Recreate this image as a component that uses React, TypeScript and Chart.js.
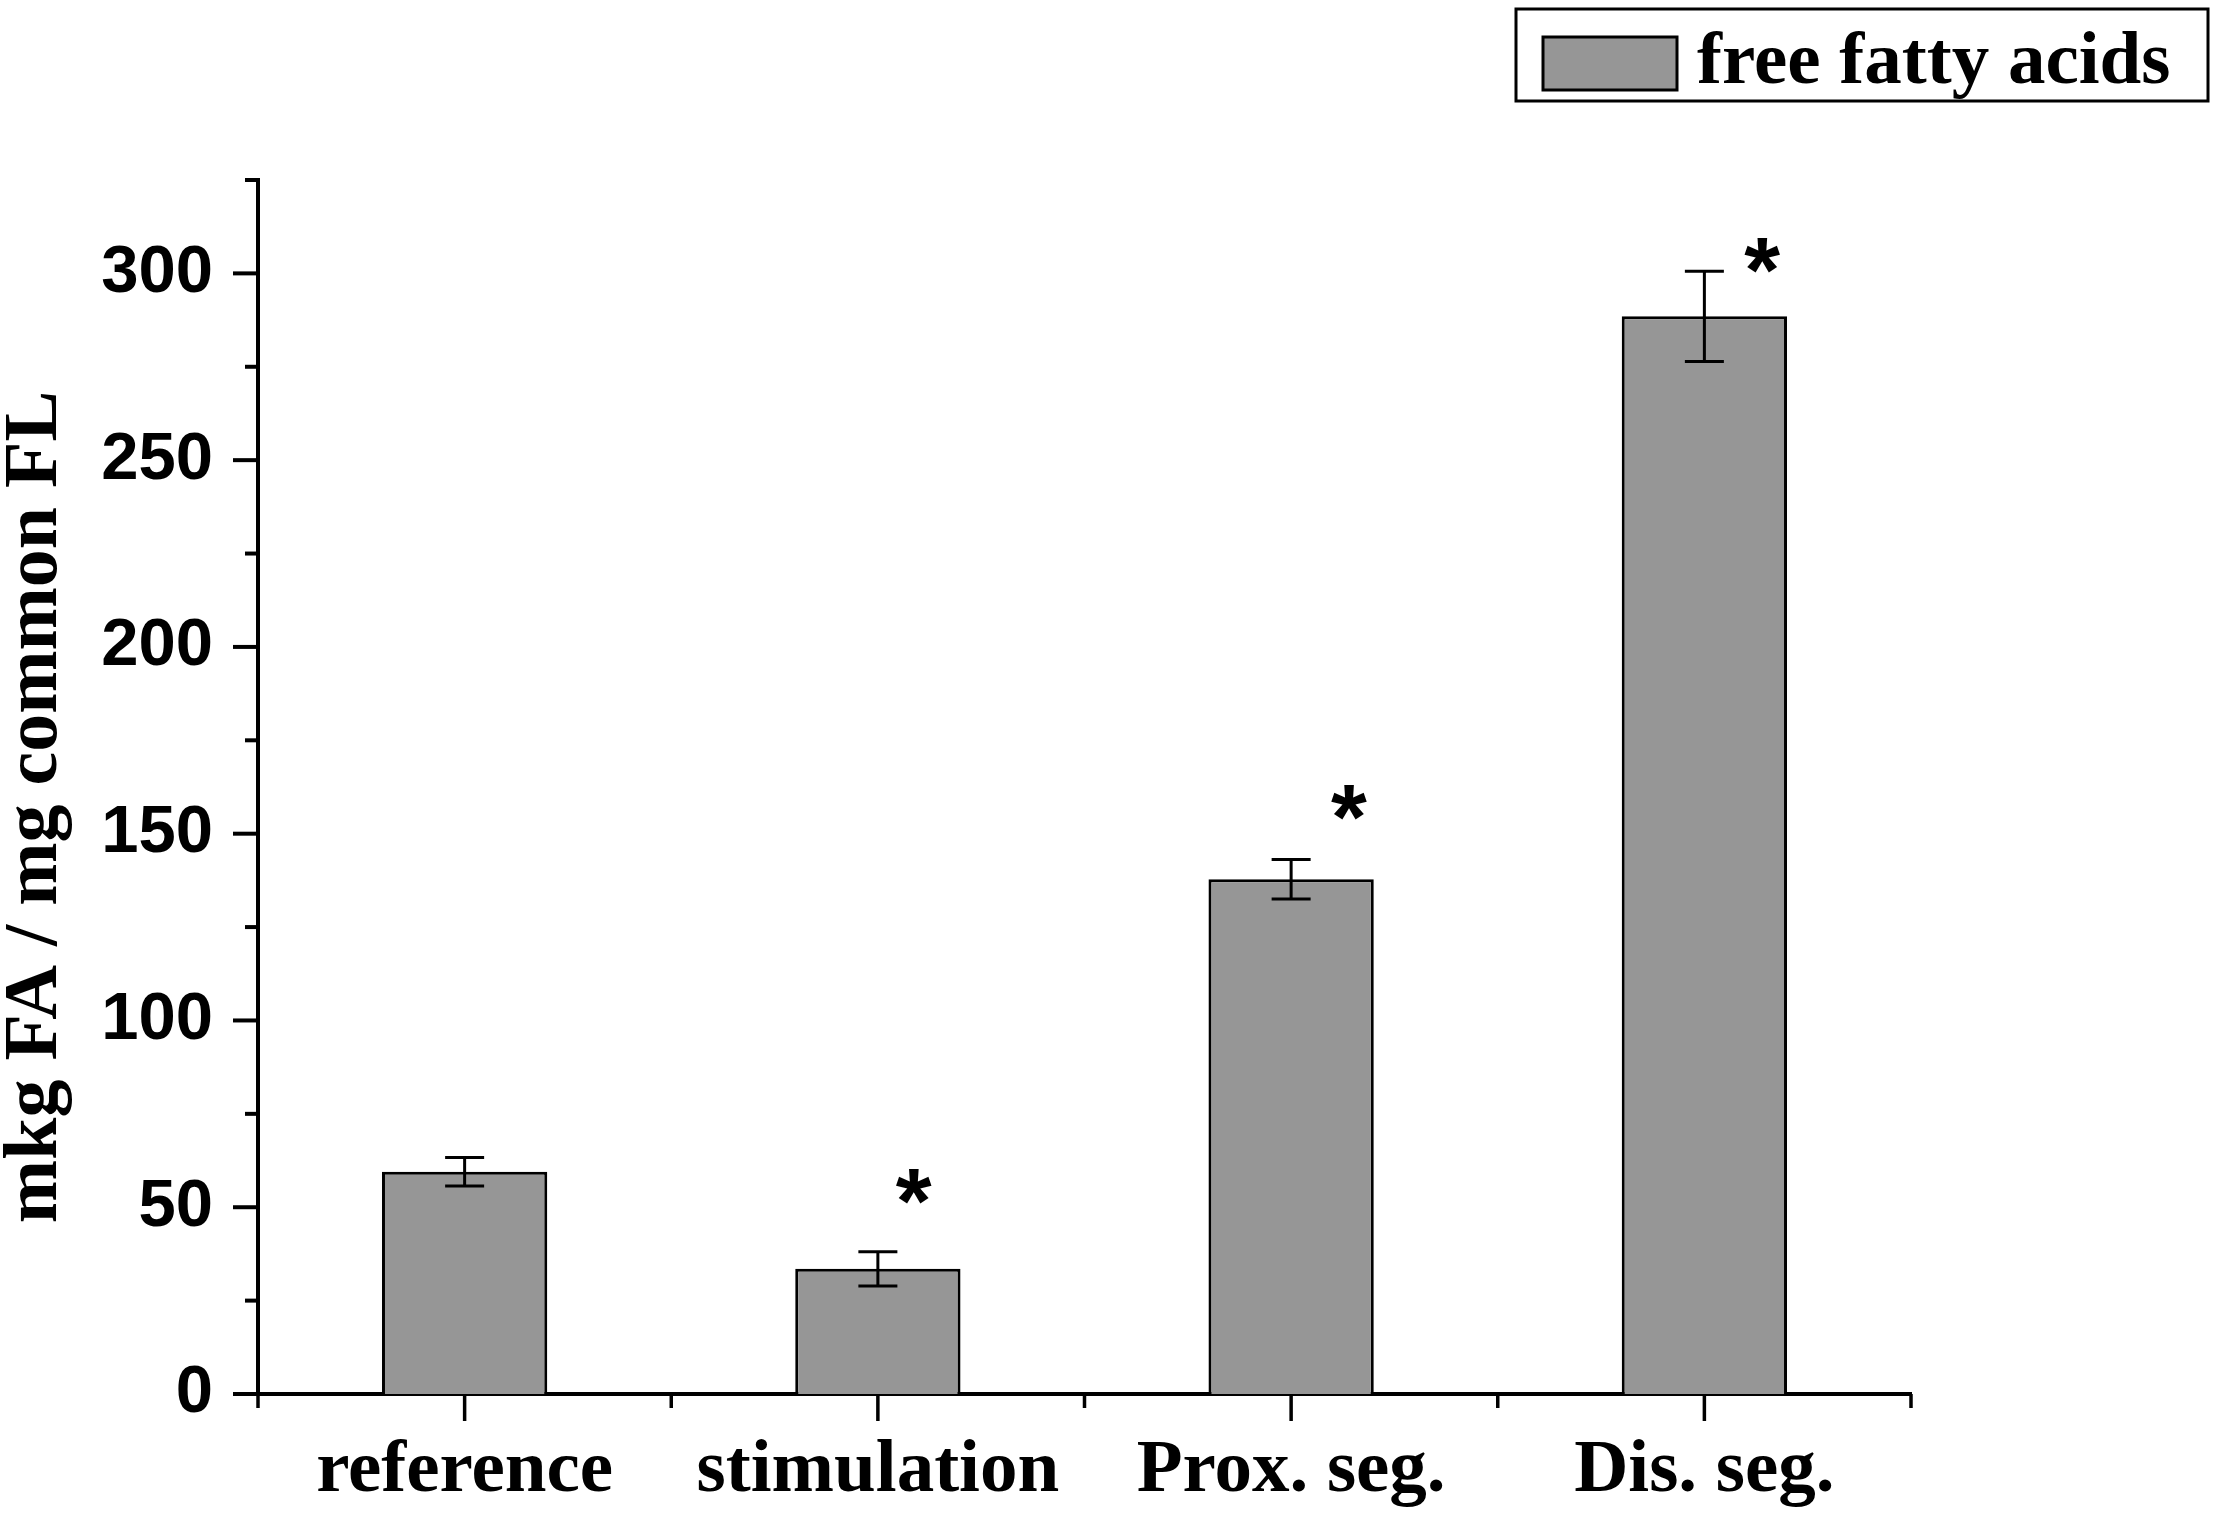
import { useEffect, useRef } from 'react'
import { Chart, registerables, type ChartConfiguration, type Plugin } from 'chart.js'

Chart.register(...registerables)

const categories = ['reference', 'stimulation', 'Prox. seg.', 'Dis. seg.']
const fattyAcids = [59.5, 33.5, 137.8, 288.5]
const fattyAcidsError = [3.8, 4.6, 5.3, 12.1]
// significance asterisks, in data units (category position, value); null = no mark
const starCategory = [null, 1.087, 2.14, 3.14]
const starValue = [null, 55.6, 158.4, 304.7]
const yTickLabels = [0, 50, 100, 150, 200, 250, 300]

const SERIF = '"Liberation Serif", "Times New Roman", serif'
const SANS = '"Liberation Sans", Arial, sans-serif'

const decorPlugin: Plugin<'bar'> = {
  id: 'decor',
  afterDatasetsDraw(chart) {
    const { ctx } = chart
    const xScale = chart.scales.x
    const yScale = chart.scales.y
    const meta = chart.getDatasetMeta(0)

    ctx.save()
    ctx.strokeStyle = '#000'
    ctx.lineWidth = 3
    ctx.lineCap = 'butt'
    meta.data.forEach((bar, i) => {
      const cx = bar.x
      const top = yScale.getPixelForValue(fattyAcids[i] + fattyAcidsError[i])
      const bottom = yScale.getPixelForValue(fattyAcids[i] - fattyAcidsError[i])
      const half = 19.5
      ctx.beginPath()
      ctx.moveTo(cx, top)
      ctx.lineTo(cx, bottom)
      ctx.moveTo(cx - half, top)
      ctx.lineTo(cx + half, top)
      ctx.moveTo(cx - half, bottom)
      ctx.lineTo(cx + half, bottom)
      ctx.stroke()
    })

    ctx.fillStyle = '#000'
    ctx.font = `bold 92px ${SANS}`
    ctx.textAlign = 'left'
    ctx.textBaseline = 'alphabetic'
    const m = ctx.measureText('*')
    starCategory.forEach((c, i) => {
      const v = starValue[i]
      if (c === null || v === null) return
      const cx = xScale.getPixelForValue(c)
      const cy = yScale.getPixelForValue(v)
      const px = cx + (m.actualBoundingBoxLeft - m.actualBoundingBoxRight) / 2
      const py = cy + (m.actualBoundingBoxAscent - m.actualBoundingBoxDescent) / 2
      ctx.fillText('*', px, py)
    })
    ctx.restore()
  },
  afterDraw(chart) {
    const { ctx, chartArea, width } = chart
    const xScale = chart.scales.x
    const yScale = chart.scales.y

    ctx.save()
    ctx.strokeStyle = '#000'
    ctx.lineCap = 'butt'

    // y ticks, outward
    yScale.ticks.forEach((t) => {
      const py = yScale.getPixelForValue(t.value)
      const major = yTickLabels.includes(t.value)
      ctx.lineWidth = 4
      ctx.beginPath()
      ctx.moveTo(chartArea.left - (major ? 25 : 13), py)
      ctx.lineTo(chartArea.left, py)
      ctx.stroke()
    })

    // x ticks: major at categories, minor at boundaries
    ctx.lineWidth = 3.5
    for (let i = 0; i <= categories.length; i++) {
      const bx = xScale.getPixelForValue(i - 0.5)
      ctx.beginPath()
      ctx.moveTo(bx, chartArea.bottom)
      ctx.lineTo(bx, chartArea.bottom + 14)
      ctx.stroke()
    }
    categories.forEach((_, i) => {
      const cx = xScale.getPixelForValue(i)
      ctx.beginPath()
      ctx.moveTo(cx, chartArea.bottom)
      ctx.lineTo(cx, chartArea.bottom + 27)
      ctx.stroke()
    })

    // y axis title
    ctx.fillStyle = '#000'
    ctx.font = `bold 76px ${SERIF}`
    ctx.textAlign = 'center'
    ctx.textBaseline = 'alphabetic'
    ctx.save()
    ctx.translate(56, (chartArea.top + chartArea.bottom) / 2 + 20)
    ctx.rotate(-Math.PI / 2)
    ctx.fillText('mkg FA / mg common FL', 0, 0)
    ctx.restore()

    // legend
    const ds = chart.data.datasets[0]
    const boxRight = width - 9
    const boxLeft = boxRight - 692
    ctx.lineWidth = 3
    ctx.strokeRect(boxLeft, 9, boxRight - boxLeft, 92)
    ctx.fillStyle = ds.backgroundColor as string
    ctx.fillRect(boxLeft + 27, 37, 134, 53)
    ctx.strokeRect(boxLeft + 27, 37, 134, 53)
    ctx.fillStyle = '#000'
    ctx.font = `bold 75px ${SERIF}`
    ctx.textAlign = 'left'
    ctx.fillText(ds.label ?? '', boxLeft + 181, 83)
    ctx.restore()
  },
}

export default function App() {
  const canvasRef = useRef<HTMLCanvasElement | null>(null)
  const chartRef = useRef<Chart<'bar'> | null>(null)

  useEffect(() => {
    document.body.style.margin = '0'
    const canvas = canvasRef.current
    if (!canvas) return
    const context = canvas.getContext('2d')
    if (!context) return

    chartRef.current?.destroy()

    const config: ChartConfiguration<'bar'> = {
      type: 'bar',
      data: {
        labels: categories,
        datasets: [
          {
            label: 'free fatty acids',
            data: fattyAcids,
            backgroundColor: '#969696',
            borderColor: '#000000',
            borderWidth: 3,
            barPercentage: 0.4,
            categoryPercentage: 1,
          },
        ],
      },
      options: {
        responsive: true,
        maintainAspectRatio: false,
        animation: false,
        layout: {
          padding: { top: 180, right: 306, left: 0, bottom: 0 },
        },
        plugins: {
          legend: { display: false },
          tooltip: { enabled: false },
        },
        scales: {
          x: {
            z: 1,
            offset: true,
            grid: { display: false, drawTicks: false },
            border: { display: true, color: '#000', width: 4 },
            ticks: {
              color: '#000',
              padding: 33,
              maxRotation: 0,
              autoSkip: false,
              font: { family: SERIF, size: 75, weight: 'bold' },
            },
            afterFit: (scale) => {
              scale.height = 126
            },
          },
          y: {
            z: 1,
            min: 0,
            max: 325,
            grid: { display: false, drawTicks: false },
            border: { display: true, color: '#000', width: 4 },
            ticks: {
              stepSize: 25,
              color: '#000',
              padding: 45,
              font: { family: SANS, size: 67, weight: 'bold' },
              callback: (value) => (yTickLabels.includes(Number(value)) ? String(value) : ''),
            },
            afterFit: (scale) => {
              scale.width = 258
            },
          },
        },
      },
      plugins: [decorPlugin],
    }

    chartRef.current = new Chart(context, config)

    return () => {
      chartRef.current?.destroy()
      chartRef.current = null
    }
  }, [])

  return (
    <div style={{ width: 2217, height: 1520, position: 'relative', background: '#fff' }}>
      <canvas ref={canvasRef} aria-label="free fatty acids bar chart" role="img" />
    </div>
  )
}
